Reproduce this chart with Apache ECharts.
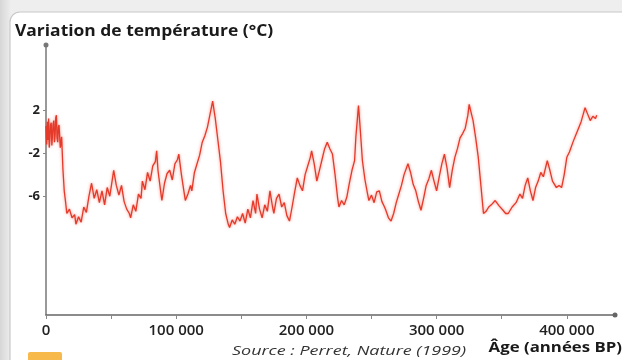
<!DOCTYPE html>
<html>
<head>
<meta charset="utf-8">
<script src="https://cdn.jsdelivr.net/npm/echarts@6/dist/echarts.min.js"></script>
<style>html,body{margin:0;padding:0;background:#fff}#c{width:622px;height:360px}</style>
</head>
<body>
<div id="c"></div>
<script>
const titleText = "Variation de température (°C)";
const xAxisTitle = "Âge (années BP)";
const sourceText = "Source : Perret, Nature (1999)";
const xTickLabels = [0, 100000, 200000, 300000, 400000];
const xMinorTicks = [0, 50000, 100000, 150000, 200000, 250000, 300000, 350000, 400000];
const yTickLabels = [2, -2, -6];

const ages = [0,500,1000,1500,2000,2500,3000,3500,4000,4500,5000,5500,6000,6500,7000,7500,8000,8500,9000,9500,10000,11000,12000,13000,14000,15000,16000,18000,20000,22000,23000,25000,27000,29000,31000,33000,35000,37000,39000,41000,43000,45000,47000,49000,51000,52000,54000,56000,58000,60000,62000,64000,65000,67000,69000,71000,73000,74000,76000,78000,80000,82000,84000,85000,86000,88000,89000,91000,93000,95000,97000,99000,101000,102000,104000,106000,107000,109000,111000,112000,114000,116000,118000,120000,122000,124000,126000,128000,130000,132000,134000,136000,138000,140000,141000,143000,145000,147000,149000,151000,153000,155000,157000,159000,161000,162000,164000,166000,168000,170000,172000,174000,175000,177000,179000,181000,183000,185000,187000,189000,191000,193000,195000,197000,199000,201000,203000,204000,206000,208000,210000,212000,214000,216000,218000,220000,222000,224000,225000,227000,229000,231000,233000,235000,237000,238000,240000,241000,243000,245000,247000,248000,250000,252000,254000,256000,258000,260000,261000,263000,265000,267000,269000,271000,273000,275000,278000,280000,282000,284000,286000,288000,290000,292000,294000,296000,298000,300000,302000,304000,306000,308000,310000,312000,314000,316000,318000,320000,322000,324000,325000,326000,328000,330000,332000,334000,336000,338000,340000,342000,345000,348000,351000,353000,355000,358000,361000,364000,366000,368000,370000,372000,374000,376000,378000,380000,382000,385000,387000,389000,392000,394000,396000,398000,400000,402000,405000,408000,411000,414000,416000,418000,420000,422000,423000];
const temps = [0.5,-1.2,0.9,-0.8,1.2,-1.5,-0.5,0.6,0.8,-1.3,-1.2,0.7,1.0,-1.0,-0.3,1.3,1.5,-0.6,-1.0,0.4,0.6,-1.5,-0.5,-3.5,-5.5,-6.5,-7.6,-7.2,-8.0,-7.7,-8.6,-7.9,-8.4,-7.0,-7.5,-6.0,-4.8,-6.2,-5.4,-6.6,-5.5,-6.8,-5.2,-6.0,-4.4,-3.6,-5.0,-5.9,-5.0,-6.5,-7.2,-7.6,-8.0,-6.8,-7.4,-5.8,-6.2,-4.6,-5.4,-3.8,-4.6,-3.2,-2.8,-1.8,-3.6,-5.5,-6.4,-4.8,-3.9,-3.6,-4.5,-3.0,-2.6,-2.1,-4.0,-5.6,-6.4,-5.8,-5.0,-5.5,-3.8,-3.0,-2.2,-1.0,-0.4,0.4,1.6,2.8,1.2,-0.8,-2.8,-5.5,-7.6,-8.6,-8.9,-8.2,-8.6,-7.9,-8.3,-7.6,-8.5,-7.2,-8.0,-6.4,-7.6,-5.8,-7.2,-8.0,-6.8,-7.4,-5.5,-7.0,-7.6,-6.2,-5.8,-7.0,-6.6,-7.8,-8.3,-7.0,-5.6,-4.3,-5.0,-5.5,-4.0,-3.2,-2.4,-1.8,-3.0,-4.6,-3.6,-2.6,-1.6,-1.0,-1.6,-2.1,-4.0,-6.2,-7.0,-6.4,-6.8,-6.1,-4.8,-3.6,-2.7,-0.5,2.4,0.8,-2.7,-4.5,-5.8,-6.4,-5.9,-6.6,-5.6,-5.5,-6.5,-7.0,-7.3,-8.0,-8.3,-7.6,-6.6,-5.8,-5.0,-4.0,-3.0,-3.8,-4.9,-5.5,-6.5,-7.3,-6.2,-5.0,-4.4,-3.6,-4.6,-5.5,-4.2,-3.0,-2.1,-3.4,-5.2,-3.6,-2.4,-1.6,-0.6,-0.2,0.3,1.5,2.5,2.0,1.0,-0.6,-2.4,-5.0,-7.6,-7.4,-7.0,-6.8,-6.4,-6.9,-7.3,-7.6,-7.6,-7.0,-6.6,-5.8,-6.2,-5.0,-4.3,-5.5,-6.4,-5.2,-4.6,-3.8,-4.2,-2.7,-3.6,-4.6,-5.2,-5.0,-5.2,-4.0,-2.4,-1.9,-0.9,0.0,0.9,2.2,1.6,1.0,1.4,1.2,1.5];

const seriesData = ages.map((a, i) => [a, temps[i]]);

const chart = echarts.init(document.getElementById('c'), null, {renderer: 'canvas'});
chart.setOption({
  animation: false,
  backgroundColor: '#ffffff',
  graphic: [
    {type: 'rect', z: -10, silent: true, shape: {x: 0, y: 0, width: 622, height: 360}, style: {fill: '#eeeeee'}},
    {type: 'rect', z: -10, silent: true, shape: {x: 0, y: 0, width: 12, height: 360},
      style: {fill: new echarts.graphic.LinearGradient(0, 0, 1, 0, [{offset: 0, color: '#d6d6d6'}, {offset: 1, color: '#f0f0f0'}])}},
    {type: 'rect', z: -9, silent: true, shape: {x: 10, y: 12, width: 640, height: 400, r: 10}, style: {fill: '#ffffff', stroke: '#c8c8c8', lineWidth: 1.2}},
    {type: 'rect', z: -8, silent: true, shape: {x: 28, y: 352, width: 34, height: 10, r: 2}, style: {fill: '#f6b94a'}},
    {type: 'text', x: 15, y: 31, scaleX: 1.09, silent: true, style: {text: titleText, align: 'left', verticalAlign: 'middle', fontFamily: 'Open Sans', fontWeight: 'bold', fontSize: 16, fill: '#1a1a1a'}},
    {type: 'text', x: 622, y: 348, scaleX: 1.12, silent: true, style: {text: xAxisTitle, align: 'right', verticalAlign: 'middle', fontFamily: 'Open Sans', fontWeight: 'bold', fontSize: 15, fill: '#1a1a1a'}},
    {type: 'text', x: 232, y: 351, scaleX: 1.38, silent: true, style: {text: sourceText, align: 'left', verticalAlign: 'middle', fontFamily: 'Open Sans', fontStyle: 'italic', fontSize: 13, fill: '#333'}}
  ],
  grid: {left: 46, right: 7, top: 45, bottom: 45, containLabel: false},
  xAxis: {
    type: 'value', min: 0, max: 437000,
    splitLine: {show: false},
    axisLine: {show: true, onZero: false, symbol: ['none', 'circle'], symbolSize: [5, 5], lineStyle: {color: '#666', width: 1.5}},
    axisTick: {show: true, customValues: xMinorTicks, length: 4, inside: false, lineStyle: {color: '#888', width: 1}},
    axisLabel: {customValues: xTickLabels, margin: 8, fontFamily: 'Open Sans', fontWeight: 600, fontSize: 15, color: '#222',
      formatter: v => v === 0 ? '0' : String(v).replace(/\B(?=(\d{3})+(?!\d))/g, ' ')}
  },
  yAxis: {
    type: 'value', min: -17, max: 8,
    splitLine: {show: false},
    axisLine: {show: true, onZero: false, symbol: ['none', 'circle'], symbolSize: [5, 5], lineStyle: {color: '#777', width: 1.5}},
    axisTick: {show: true, customValues: yTickLabels, length: 3, lineStyle: {color: '#888'}},
    axisLabel: {customValues: yTickLabels, margin: 6, fontFamily: 'Open Sans', fontWeight: 'bold', fontSize: 13, color: '#222'}
  },
  series: [{
    type: 'line', data: seriesData, symbol: 'none', smooth: false,
    lineStyle: {color: '#e5392a', width: 1.3, shadowBlur: 3, shadowColor: 'rgba(240,90,70,0.7)'}
  }]
});
</script>
</body>
</html>
